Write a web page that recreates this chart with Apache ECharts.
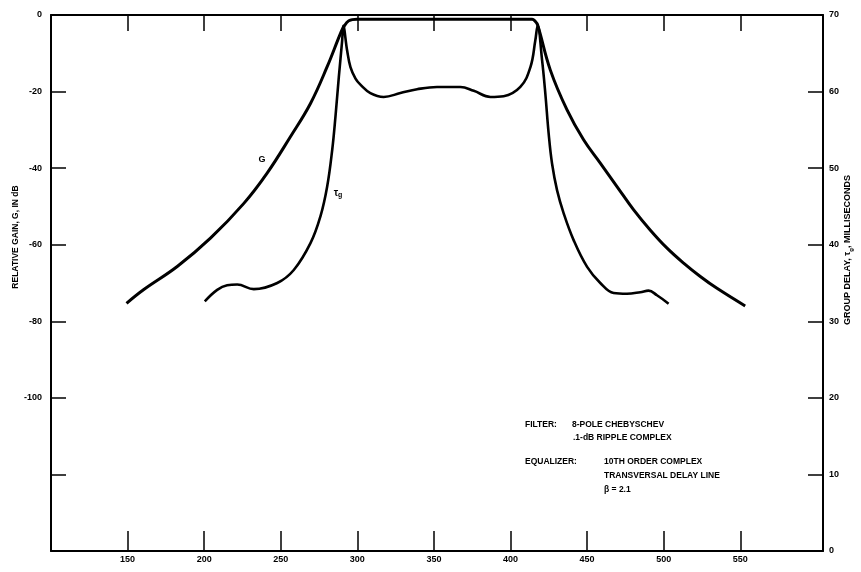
<!DOCTYPE html>
<html>
<head>
<meta charset="utf-8">
<script src="https://cdn.jsdelivr.net/npm/echarts@6/dist/echarts.min.js"></script>
<style>
html,body{margin:0;padding:0;background:#fff;}
#chart{width:861px;height:572px;}
</style>
</head>
<body>
<div id="chart"></div>
<script>
// Frequency ticks (x axis)
var xTicks = [150, 200, 250, 300, 350, 400, 450, 500, 550];
// Left axis: relative gain G (dB)
var gainTickLabels = ['0', '-20', '-40', '-60', '-80', '-100', '', ''];
// Right axis: group delay (ms)
var delayTickLabels = ['0', '10', '20', '30', '40', '50', '60', '70'];

// G curve (relative gain, dB)
var freqG = [149.3, 160.6, 182.4, 204.1, 225.9, 241.1, 256.3, 269.4, 280.3, 289.0, 291.1, 294.4, 299.9, 350, 410, 414.1, 416.2, 417.7, 426.0, 436.9, 447.7, 458.6, 469.5, 480.4, 491.3, 502.2, 513.0, 523.9, 534.8, 553.2];
var gainG = [-75.3, -71.7, -65.7, -58.3, -49.2, -41.3, -31.8, -23.1, -13.5, -4.8, -3.1, -1.5, -1.1, -1.1, -1.1, -1.1, -1.7, -2.6, -14.4, -24.8, -32.6, -38.7, -44.8, -50.9, -56.2, -60.9, -64.8, -68.3, -71.4, -76.0];

// tau_g curve (group delay, ms)
var freqT = [200.4, 208.5, 215.0, 221.6, 232.4, 247.7, 258.5, 269.4, 275.9, 280.3, 283.6, 285.7, 287.9, 290.1, 290.8, 293.3, 295.5, 298.8, 302.0, 308.5, 317.2, 328.1, 339.0, 352.0, 367.3, 376.0, 386.9, 395.5, 406.4, 413.0, 416.2, 417.7, 420.6, 422.7, 424.9, 427.1, 430.4, 434.7, 441.2, 450.0, 458.6, 467.3, 476.0, 484.7, 490.1, 495.6, 503.2];
var delayT = [32.6, 34.1, 34.7, 34.8, 34.2, 35.0, 36.7, 40.2, 43.7, 47.6, 52.4, 56.7, 61.9, 66.7, 68.6, 65.4, 63.2, 61.7, 60.9, 59.8, 59.3, 59.8, 60.3, 60.6, 60.6, 60.1, 59.3, 59.4, 60.6, 63.2, 66.7, 68.6, 64.1, 59.8, 54.5, 50.6, 47.1, 44.1, 40.6, 37.1, 35.0, 33.7, 33.6, 33.8, 34.0, 33.4, 32.3];

var FONT = '"Liberation Sans", Arial, Helvetica, sans-serif';
var chart = echarts.init(document.getElementById('chart'));

function pair(xs, ys) { return xs.map(function (x, i) { return [x, ys[i]]; }); }

var axisLineStyle = { color: '#000', width: 2 };
var XMIN = 100, XMAX = 604;

var option = {
  backgroundColor: '#fff',
  animation: false,
  grid: { left: 51, right: 38, top: 15, bottom: 21, containLabel: false },
  xAxis: [{
    type: 'value', position: 'bottom', min: XMIN, max: XMAX,
    splitLine: { show: false },
    axisLine: { show: true, lineStyle: axisLineStyle },
    axisTick: { show: false },
    axisLabel: { show: true, customValues: xTicks, color: '#000', fontFamily: FONT, fontWeight: 'bold', fontSize: 9, margin: 4 }
  }, {
    type: 'value', position: 'top', min: XMIN, max: XMAX,
    splitLine: { show: false },
    axisLine: { show: true, lineStyle: axisLineStyle },
    axisTick: { show: false },
    axisLabel: { show: false }
  }, {
    // tick marks rising from the bottom frame
    type: 'value', position: 'bottom', offset: -20, min: XMIN, max: XMAX,
    splitLine: { show: false },
    axisLine: { show: false },
    axisTick: { show: true, length: 20, customValues: xTicks, lineStyle: { color: '#000', width: 1.5 } },
    axisLabel: { show: false }
  }, {
    // tick marks hanging from the top frame
    type: 'value', position: 'top', offset: -16, min: XMIN, max: XMAX,
    splitLine: { show: false },
    axisLine: { show: false },
    axisTick: { show: true, length: 16, customValues: xTicks, lineStyle: { color: '#000', width: 1.5 } },
    axisLabel: { show: false }
  }],
  yAxis: [{
    type: 'value', position: 'left', min: -140, max: 0, interval: 20,
    splitLine: { show: false },
    axisLine: { show: true, lineStyle: axisLineStyle },
    axisTick: { show: true, inside: true, length: 15, lineStyle: { color: '#000', width: 1.5 } },
    axisLabel: {
      color: '#000', fontFamily: FONT, fontWeight: 'bold', fontSize: 9, margin: 9,
      formatter: function (v) { var i = Math.round(-v / 20); return gainTickLabels[i] !== undefined ? gainTickLabels[i] : ''; }
    }
  }, {
    type: 'value', position: 'right', min: 0, max: 70, interval: 10,
    splitLine: { show: false },
    axisLine: { show: true, lineStyle: axisLineStyle },
    axisTick: { show: true, inside: true, length: 15, lineStyle: { color: '#000', width: 1.5 } },
    axisLabel: {
      color: '#000', fontFamily: FONT, fontWeight: 'bold', fontSize: 9, margin: 6,
      formatter: function (v) { var i = Math.round(v / 10); return delayTickLabels[i] !== undefined ? delayTickLabels[i] : ''; }
    }
  }],
  series: [{
    name: 'G', type: 'line', xAxisIndex: 0, yAxisIndex: 0,
    data: pair(freqG, gainG), showSymbol: false, smooth: 0.4,
    lineStyle: { color: '#000', width: 3 }
  }, {
    name: 'τg', type: 'line', xAxisIndex: 0, yAxisIndex: 1,
    data: pair(freqT, delayT), showSymbol: false, smooth: 0.4,
    lineStyle: { color: '#000', width: 2.6 }
  }],
  graphic: [
    { type: 'text', x: 16, y: 237, rotation: Math.PI / 2,
      style: { text: 'RELATIVE GAIN, G, IN dB', fill: '#000', font: 'bold 8.5px ' + FONT, textAlign: 'center', textVerticalAlign: 'middle' } },
    { type: 'text', x: 848, y: 250, rotation: Math.PI / 2,
      style: { text: '{a|GROUP DELAY, τ}{s|g}{a|, MILLISECONDS}', fill: '#000', textAlign: 'center', textVerticalAlign: 'middle',
        rich: { a: { fontFamily: FONT, fontWeight: 'bold', fontSize: 9, lineHeight: 12, verticalAlign: 'middle' },
                s: { fontFamily: FONT, fontWeight: 'bold', fontSize: 6, lineHeight: 12, verticalAlign: 'bottom', padding: [4, 0, 0, 0] } } } },
    { type: 'text', x: 262, y: 160, style: { text: 'G', fill: '#000', font: 'bold 9px ' + FONT, textAlign: 'center', textVerticalAlign: 'middle' } },
    { type: 'text', x: 338, y: 193,
      style: { text: '{a|τ}{s|g}', fill: '#000', textAlign: 'center', textVerticalAlign: 'middle',
        rich: { a: { fontFamily: FONT, fontWeight: 'bold', fontSize: 10, lineHeight: 12, verticalAlign: 'middle' },
                s: { fontFamily: FONT, fontWeight: 'bold', fontSize: 7, lineHeight: 12, verticalAlign: 'bottom', padding: [5, 0, 0, 0] } } } },
    { type: 'text', x: 525, y: 425, style: { text: 'FILTER:', fill: '#000', font: 'bold 8.5px ' + FONT, textVerticalAlign: 'middle' } },
    { type: 'text', x: 572, y: 425, style: { text: '8-POLE CHEBYSCHEV', fill: '#000', font: 'bold 8.5px ' + FONT, textVerticalAlign: 'middle' } },
    { type: 'text', x: 573, y: 438, style: { text: '.1-dB RIPPLE COMPLEX', fill: '#000', font: 'bold 8.5px ' + FONT, textVerticalAlign: 'middle' } },
    { type: 'text', x: 525, y: 462, style: { text: 'EQUALIZER:', fill: '#000', font: 'bold 8.5px ' + FONT, textVerticalAlign: 'middle' } },
    { type: 'text', x: 604, y: 462, style: { text: '10TH ORDER COMPLEX', fill: '#000', font: 'bold 8.5px ' + FONT, textVerticalAlign: 'middle' } },
    { type: 'text', x: 604, y: 476, style: { text: 'TRANSVERSAL DELAY LINE', fill: '#000', font: 'bold 8.5px ' + FONT, textVerticalAlign: 'middle' } },
    { type: 'text', x: 604, y: 490, style: { text: 'β = 2.1', fill: '#000', font: 'bold 8.5px ' + FONT, textVerticalAlign: 'middle' } }
  ]
};
chart.setOption(option);
</script>
</body>
</html>
